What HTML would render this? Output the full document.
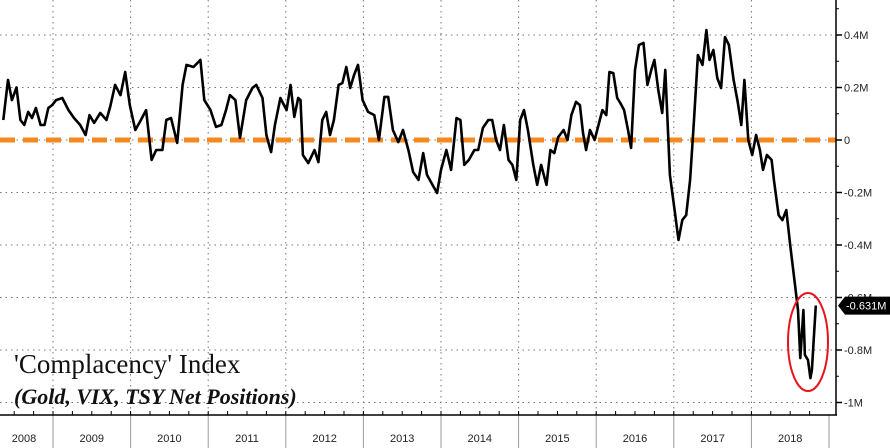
<!DOCTYPE html>
<html><head><meta charset="utf-8"><style>
html,body{margin:0;padding:0;background:#fff;}
svg{display:block;}
</style></head><body>
<svg id="chart" width="890" height="448" viewBox="0 0 890 448" xmlns="http://www.w3.org/2000/svg">
<g id="grid"></g>
<line x1="0" y1="140" x2="836" y2="140" stroke="#f5891f" stroke-width="5" stroke-dasharray="15,8"/>
<path id="series" fill="none" stroke="#000" stroke-width="2.6" stroke-linejoin="round"/>
<ellipse cx="808" cy="342" rx="20" ry="49" fill="none" stroke="#e8131b" stroke-width="2"/>
<g id="axes"></g>
<text x="14" y="373" font-family="Liberation Serif, serif" font-size="27" fill="#111">'Complacency' Index</text>
<text x="14" y="404" font-family="Liberation Serif, serif" font-size="22" font-style="italic" font-weight="bold" fill="#111">(Gold, VIX, TSY Net Positions)</text>
</svg>
<script>
const dates=[2008.36,2008.42,2008.47,2008.53,2008.58,2008.63,2008.68,2008.73,2008.78,2008.84,2008.89,2008.94,2008.99,2009.04,2009.12,2009.20,2009.27,2009.35,2009.42,2009.47,2009.53,2009.61,2009.69,2009.74,2009.80,2009.87,2009.93,2009.99,2010.06,2010.12,2010.20,2010.27,2010.33,2010.41,2010.46,2010.52,2010.60,2010.67,2010.72,2010.81,2010.90,2010.95,2011.03,2011.10,2011.17,2011.23,2011.28,2011.35,2011.41,2011.49,2011.57,2011.62,2011.70,2011.75,2011.81,2011.86,2011.93,2012.01,2012.06,2012.11,2012.16,2012.19,2012.22,2012.29,2012.37,2012.42,2012.47,2012.52,2012.57,2012.62,2012.68,2012.73,2012.78,2012.83,2012.88,2012.93,2012.99,2013.06,2013.14,2013.20,2013.27,2013.32,2013.38,2013.45,2013.51,2013.58,2013.64,2013.71,2013.77,2013.82,2013.89,2013.95,2014.00,2014.07,2014.13,2014.20,2014.25,2014.30,2014.36,2014.43,2014.48,2014.54,2014.61,2014.66,2014.71,2014.76,2014.81,2014.87,2014.92,2014.97,2015.02,2015.07,2015.12,2015.19,2015.24,2015.29,2015.36,2015.41,2015.46,2015.51,2015.58,2015.63,2015.68,2015.74,2015.79,2015.83,2015.87,2015.92,2015.98,2016.03,2016.08,2016.13,2016.17,2016.22,2016.27,2016.31,2016.36,2016.41,2016.45,2016.50,2016.55,2016.61,2016.66,2016.71,2016.75,2016.80,2016.85,2016.89,2016.95,2017.01,2017.06,2017.11,2017.16,2017.21,2017.26,2017.31,2017.37,2017.42,2017.46,2017.51,2017.56,2017.61,2017.66,2017.71,2017.77,2017.82,2017.87,2017.91,2017.96,2018.01,2018.06,2018.11,2018.15,2018.20,2018.26,2018.29,2018.35,2018.40,2018.45,2018.50,2018.57,2018.60,2018.63,2018.67,2018.69,2018.73,2018.76,2018.78,2018.81,2018.83];
const values=[76,229,152,200,76,57,107,84,122,57,57,122,133,152,160,114,84,57,19,95,65,103,76,130,210,171,259,133,38,69,114,-76,-38,-38,76,84,-11,210,286,278,305,152,114,50,57,114,171,152,8,152,198,210,160,19,-46,57,160,114,210,88,160,152,-57,-88,-38,-84,76,107,19,76,210,217,278,198,248,286,152,107,95,0,164,164,38,-8,38,-38,-122,-152,-50,-133,-171,-202,-114,-38,-114,84,76,-95,-76,-38,-38,46,76,76,0,-38,57,-76,-95,-152,76,114,38,-95,-171,-95,-171,-38,-50,11,38,0,95,145,133,27,-38,38,0,57,114,95,259,255,160,141,114,38,-30,267,362,370,210,267,305,190,103,267,-133,-267,-381,-305,-286,-152,76,324,286,419,305,343,236,198,392,362,229,152,57,229,0,-57,19,-38,-114,-57,-76,-152,-286,-305,-267,-400,-571,-648,-831,-648,-819,-838,-907,-876,-724,-631];
const years=[2008,2009,2010,2011,2012,2013,2014,2015,2016,2017,2018];
const yTicks=[0.4,0.2,0,-0.2,-0.4,-0.6,-0.8,-1];
const yTickLabels=["0.4M","0.2M","0","-0.2M","-0.4M","-0.6M","-0.8M","-1M"];
const lastLabel="-0.631M";

const NS="http://www.w3.org/2000/svg";
const X=t=>53+(t-2009)*77.6;
const Y=v=>140-v*262.5; // v in millions
const PR=836, AXY=415;
function mk(tag,attrs,parent){const e=document.createElementNS(NS,tag);for(const k in attrs)e.setAttribute(k,attrs[k]);parent.appendChild(e);return e;}
const grid=document.getElementById('grid'), axes=document.getElementById('axes');

yTicks.forEach((v,i)=>{
  const l=mk('line',{x1:0,x2:PR,y1:Y(v),y2:Y(v),stroke:'#777','stroke-width':1,'stroke-dasharray':'1.5,4'},grid);
  
  
  const tk=mk('line',{x1:PR,x2:PR+6,y1:Y(v),y2:Y(v),stroke:'#000','stroke-width':1.5},axes);
  
  
  const tx=mk('text',{x:PR+8,y:Y(v)+4,'font-family':'Liberation Sans, sans-serif','font-size':11,fill:'#222'},axes);
  tx.textContent=yTickLabels[i];
  
  
});
for(let v=0.5;v>=-1.05;v-=0.1){
  const m=mk('line',{x1:PR,x2:PR+3,y1:Y(v),y2:Y(v),stroke:'#000','stroke-width':1},axes);
  
  
}
years.forEach(yr=>{
  if(yr>2008){
    const g=mk('line',{x1:X(yr),x2:X(yr),y1:0,y2:AXY,stroke:'#777','stroke-width':1,'stroke-dasharray':'1.5,4'},grid);
    
    
    const s=mk('line',{x1:X(yr),x2:X(yr),y1:AXY,y2:448,stroke:'#999','stroke-width':1},axes);
    
    
  }
  for(let q=0;q<4;q++){
    const qx=X(yr+q*0.25);
    if(qx<0||qx>PR)continue;
    const t=mk('line',{x1:qx,x2:qx,y1:AXY-4,y2:AXY,stroke:'#000','stroke-width':1},axes);
    
    
  }
  const cx=Math.max(X(yr)+38.8,24);
  const tx=mk('text',{x:yr===2008?24:cx,y:442,'text-anchor':'middle','font-family':'Liberation Sans, sans-serif','font-size':11,fill:'#222'},axes);
  tx.textContent=yr;
  
  
});
const s2019=mk('line',{x1:X(2019),x2:X(2019),y1:AXY,y2:448,stroke:'#999','stroke-width':1},axes);


const ax=mk('line',{x1:0,x2:PR+1,y1:AXY,y2:AXY,stroke:'#000','stroke-width':1.5},axes);


const ay=mk('line',{x1:PR,x2:PR,y1:0,y2:AXY,stroke:'#000','stroke-width':1.5},axes);



let d='';
dates.forEach((t,i)=>{d+=(i?'L':'M')+X(t).toFixed(1)+','+Y(values[i]/1000).toFixed(1);});
document.getElementById('series').setAttribute('d',d);

const lv=values[values.length-1]/1000, ly=Y(lv);
const box=mk('path',{d:`M${PR+2},${ly} L${PR+9},${ly-9} L890,${ly-9} L890,${ly+9} L${PR+9},${ly+9} Z`,fill:'#000'},axes);


const lt=mk('text',{x:PR+10,y:ly+4,'font-family':'Liberation Sans, sans-serif','font-size':11,fill:'#fff'},axes);
lt.textContent=lastLabel;


</script>
</body></html>
